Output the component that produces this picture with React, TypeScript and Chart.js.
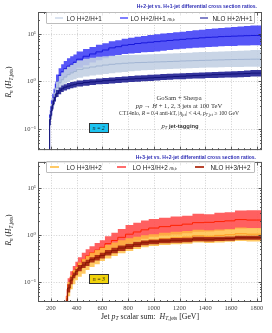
import React, { useEffect, useRef } from 'react';
import { Chart, registerables } from 'chart.js';
Chart.register(...registerables);

// ---------- axes ----------
const X_MIN = 100;
const X_MAX = 1840;
const X_TICKS = [200, 400, 600, 800, 1000, 1200, 1400, 1600, 1800];
const X_TICK_LABELS = ['200', '400', '600', '800', '1000', '1200', '1400', '1600', '1800'];
const Y_TICKS = [0.1, 1, 10];
const Y_TICK_LABELS = ['10\u207B\u00B9', '10\u2070', '10\u00B9'];
const TOP_Y_RANGE = [0.036, 29];
const BOT_Y_RANGE = [0.0376, 36.5];

// ---------- top panel: H+2 / H+1 (bin left edges, last = right edge) ----------
const HT_EDGES_TOP = [190, 200, 210, 220, 230, 240, 260, 280, 300, 325, 350, 375, 400, 450, 500, 550, 600, 650, 700, 750, 800, 850, 900, 950, 1000, 1050, 1100, 1150, 1200, 1250, 1300, 1350, 1400, 1450, 1500, 1550, 1600, 1650, 1700, 1750, 1800, 1850];

const LO_MTB_21_HI = [0.01, 0.25, 0.4, 0.55, 0.7, 0.9, 1.4, 1.9, 2.3, 2.7, 3.1, 3.4, 3.7, 4.3, 4.8, 5.3, 5.9, 6.4, 7.0, 7.4, 7.9, 8.3, 8.7, 9.1, 9.5, 9.9, 10.2, 10.5, 10.9, 11.2, 11.6, 12.0, 12.3, 12.7, 13.1, 13.4, 13.7, 14.0, 14.4, 14.7, 15.0];
const LO_MTB_21_MID = [0.01, 0.2, 0.3, 0.42, 0.52, 0.65, 1.0, 1.35, 1.6, 1.85, 2.1, 2.3, 2.55, 2.95, 3.4, 3.8, 4.2, 4.6, 5.1, 5.4, 5.8, 6.0, 6.3, 6.5, 6.7, 6.9, 7.1, 7.3, 7.5, 7.7, 7.9, 8.1, 8.3, 8.5, 8.6, 8.8, 8.9, 9.0, 9.1, 9.2, 9.3];
const LO_MTB_21_LO = [0.01, 0.14, 0.2, 0.28, 0.36, 0.45, 0.7, 0.9, 1.05, 1.2, 1.35, 1.5, 1.65, 1.95, 2.2, 2.5, 2.8, 3.1, 3.4, 3.6, 3.8, 3.9, 4.0, 4.1, 4.2, 4.3, 4.45, 4.6, 4.75, 4.9, 5.0, 5.1, 5.2, 5.3, 5.4, 5.5, 5.55, 5.6, 5.7, 5.75, 5.8];

const LO_21_HI = [0.01, 0.22, 0.33, 0.45, 0.58, 0.72, 1.0, 1.3, 1.55, 1.8, 2.05, 2.25, 2.45, 2.75, 3.0, 3.15, 3.3, 3.4, 3.5, 3.55, 3.6, 3.62, 3.65, 3.7, 3.75, 3.8, 3.85, 3.9, 3.95, 4.0, 4.05, 4.1, 4.15, 4.2, 4.25, 4.3, 4.35, 4.4, 4.45, 4.5, 4.6];
const LO_21_MID = [0.01, 0.17, 0.25, 0.34, 0.43, 0.53, 0.75, 0.95, 1.1, 1.25, 1.4, 1.52, 1.62, 1.8, 1.92, 2.02, 2.12, 2.22, 2.3, 2.36, 2.42, 2.46, 2.5, 2.52, 2.55, 2.58, 2.6, 2.63, 2.66, 2.7, 2.72, 2.75, 2.78, 2.8, 2.83, 2.85, 2.88, 2.9, 2.92, 2.93, 2.95];
const LO_21_LO = [0.01, 0.12, 0.18, 0.25, 0.31, 0.38, 0.55, 0.68, 0.8, 0.9, 0.98, 1.06, 1.12, 1.2, 1.27, 1.33, 1.39, 1.44, 1.49, 1.54, 1.59, 1.64, 1.69, 1.72, 1.75, 1.78, 1.8, 1.83, 1.85, 1.87, 1.9, 1.92, 1.94, 1.96, 1.98, 2.0, 2.01, 2.02, 2.03, 2.04, 2.05];

const NLO_21_HI = [0.01, 0.2, 0.3, 0.4, 0.48, 0.55, 0.66, 0.75, 0.82, 0.88, 0.93, 0.97, 1.0, 1.05, 1.09, 1.12, 1.15, 1.18, 1.21, 1.24, 1.27, 1.3, 1.33, 1.36, 1.39, 1.41, 1.43, 1.45, 1.47, 1.49, 1.51, 1.53, 1.55, 1.57, 1.59, 1.61, 1.63, 1.65, 1.67, 1.7, 1.74];
const NLO_21_MID = [0.01, 0.16, 0.24, 0.32, 0.4, 0.46, 0.56, 0.64, 0.7, 0.76, 0.8, 0.84, 0.87, 0.91, 0.95, 0.98, 1.01, 1.04, 1.06, 1.09, 1.11, 1.13, 1.15, 1.17, 1.19, 1.21, 1.23, 1.25, 1.27, 1.29, 1.31, 1.33, 1.35, 1.37, 1.39, 1.41, 1.43, 1.44, 1.45, 1.47, 1.5];
const NLO_21_LO = [0.01, 0.12, 0.19, 0.26, 0.33, 0.38, 0.47, 0.54, 0.6, 0.65, 0.69, 0.72, 0.75, 0.78, 0.81, 0.84, 0.87, 0.89, 0.91, 0.93, 0.95, 0.97, 0.99, 1.01, 1.03, 1.05, 1.07, 1.09, 1.11, 1.12, 1.14, 1.15, 1.16, 1.18, 1.19, 1.2, 1.21, 1.22, 1.23, 1.25, 1.27];

// ---------- bottom panel: H+3 / H+2 ----------
const HT_EDGES_BOT = [320, 330, 350, 370, 390, 410, 440, 470, 500, 540, 580, 620, 670, 720, 780, 840, 900, 960, 1040, 1130, 1220, 1300, 1390, 1470, 1550, 1630, 1720, 1800, 1850];

const LO_MTB_32_HI = [0.01, 0.07, 0.12, 0.17, 0.22, 0.27, 0.34, 0.42, 0.5, 0.58, 0.68, 0.78, 0.95, 1.12, 1.35, 1.65, 1.85, 2.05, 2.2, 2.35, 2.5, 2.6, 2.85, 2.8, 3.0, 3.1, 3.35, 3.4];
const LO_MTB_32_MID = [0.01, 0.05, 0.09, 0.13, 0.17, 0.2, 0.25, 0.3, 0.36, 0.42, 0.48, 0.55, 0.66, 0.77, 0.9, 1.05, 1.17, 1.3, 1.42, 1.52, 1.62, 1.72, 1.85, 1.88, 1.95, 2.02, 2.15, 2.1];
const LO_MTB_32_LO = [0.01, 0.035, 0.07, 0.1, 0.13, 0.16, 0.19, 0.23, 0.27, 0.31, 0.35, 0.4, 0.46, 0.53, 0.6, 0.68, 0.76, 0.84, 0.92, 0.98, 1.04, 1.1, 1.18, 1.2, 1.25, 1.3, 1.38, 1.4];

const LO_32_HI = [0.01, 0.05, 0.1, 0.14, 0.18, 0.21, 0.26, 0.31, 0.36, 0.42, 0.48, 0.54, 0.62, 0.7, 0.78, 0.86, 0.93, 1.0, 1.05, 1.12, 1.18, 1.22, 1.3, 1.27, 1.32, 1.36, 1.45, 1.42];
const LO_32_MID = [0.01, 0.04, 0.07, 0.1, 0.13, 0.15, 0.19, 0.22, 0.26, 0.3, 0.34, 0.39, 0.45, 0.51, 0.57, 0.63, 0.69, 0.74, 0.79, 0.84, 0.88, 0.91, 0.97, 0.95, 0.99, 1.02, 1.07, 1.05];
const LO_32_LO = [0.01, 0.03, 0.05, 0.07, 0.09, 0.11, 0.13, 0.15, 0.18, 0.21, 0.24, 0.28, 0.32, 0.36, 0.41, 0.46, 0.51, 0.55, 0.59, 0.62, 0.64, 0.66, 0.7, 0.68, 0.7, 0.72, 0.75, 0.73];

const NLO_32_HI = [0.01, 0.045, 0.09, 0.13, 0.16, 0.19, 0.23, 0.27, 0.3, 0.34, 0.38, 0.42, 0.48, 0.54, 0.6, 0.66, 0.72, 0.77, 0.8, 0.84, 0.87, 0.88, 0.92, 0.91, 0.93, 0.94, 0.97, 0.97];
const NLO_32_MID = [0.01, 0.04, 0.075, 0.11, 0.14, 0.17, 0.2, 0.23, 0.26, 0.3, 0.33, 0.37, 0.42, 0.47, 0.53, 0.58, 0.64, 0.69, 0.72, 0.75, 0.78, 0.79, 0.83, 0.82, 0.84, 0.85, 0.88, 0.88];
const NLO_32_LO = [0.01, 0.035, 0.06, 0.09, 0.12, 0.14, 0.17, 0.2, 0.22, 0.26, 0.29, 0.32, 0.37, 0.41, 0.46, 0.51, 0.56, 0.61, 0.64, 0.67, 0.69, 0.71, 0.74, 0.73, 0.75, 0.76, 0.8, 0.8];

const SERIF = '"Liberation Serif", "DejaVu Serif", serif';
const SANS = '"Liberation Sans", Arial, sans-serif';

function band(edges: number[], lo: number[], mid: number[], hi: number[], label: string, fill: string, line: string, order: number) {
  const pts = (v: number[]) => edges.map((x, i) => ({ x, y: v[Math.min(i, v.length - 1)] }));
  const common = { pointRadius: 0, stepped: 'after' as const, borderJoinStyle: 'miter' as const };
  return [
    { ...common, label: label + ' low', data: pts(lo), borderWidth: 0, borderColor: 'rgba(0,0,0,0)', fill: false, order: order + 2 },
    { ...common, label: label + ' high', data: pts(hi), borderWidth: 0, borderColor: 'rgba(0,0,0,0)', backgroundColor: fill, fill: '-1', order: order + 1 },
    { ...common, label, data: pts(mid), borderWidth: 1, borderColor: line, fill: false, order },
  ];
}

const frameTicks = {
  id: 'frameTicks',
  beforeDatasetsDraw(chart: any) {
    const { ctx, chartArea: a, scales } = chart;
    const x = scales.x, y = scales.y;
    ctx.save();
    ctx.strokeStyle = '#c4c4c4';
    ctx.lineWidth = 0.8;
    ctx.setLineDash([1, 1.6]);
    ctx.beginPath();
    X_TICKS.forEach((v) => {
      const p = Math.round(x.getPixelForValue(v)) + 0.5;
      ctx.moveTo(p, a.top); ctx.lineTo(p, a.bottom);
    });
    Y_TICKS.forEach((v) => {
      const p = Math.round(y.getPixelForValue(v)) + 0.5;
      ctx.moveTo(a.left, p); ctx.lineTo(a.right, p);
    });
    ctx.stroke();
    ctx.restore();
  },
  afterDatasetsDraw(chart: any) {
    const { ctx, chartArea: a, scales } = chart;
    const x = scales.x, y = scales.y;
    ctx.save();
    ctx.strokeStyle = '#333';
    ctx.lineWidth = 0.8;
    ctx.beginPath();
    for (let v = 100; v <= 1800; v += 50) {
      const major = v % 200 === 0;
      const len = major ? 3.5 : 2;
      const p = Math.round(x.getPixelForValue(v)) + 0.5;
      ctx.moveTo(p, a.bottom); ctx.lineTo(p, a.bottom - len);
      ctx.moveTo(p, a.top); ctx.lineTo(p, a.top + len);
    }
    const ymin = y.min, ymax = y.max;
    [0.01, 0.1, 1, 10].forEach((d) => {
      for (let k = 1; k <= 9; k++) {
        const v = d * k;
        if (v < ymin || v > ymax) continue;
        const len = k === 1 ? 3.5 : 2;
        const p = Math.round(y.getPixelForValue(v)) + 0.5;
        ctx.moveTo(a.left, p); ctx.lineTo(a.left + len, p);
        ctx.moveTo(a.right, p); ctx.lineTo(a.right - len, p);
      }
    });
    ctx.stroke();
    ctx.strokeStyle = '#555';
    ctx.lineWidth = 1;
    ctx.strokeRect(a.left + 0.5, a.top + 0.5, a.right - a.left - 1, a.bottom - a.top - 1);
    ctx.restore();
  },
};

function makeConfig(datasets: any[], yRange: number[], padding: any, xHeight: number, showX: boolean) {
  const tickFont = { family: SERIF, size: 6.5 };
  return {
    type: 'line' as const,
    data: { datasets },
    plugins: [frameTicks],
    options: {
      animation: false,
      responsive: false,
      maintainAspectRatio: false,
      events: [],
      layout: { padding },
      plugins: { legend: { display: false }, tooltip: { enabled: false }, title: { display: false } },
      scales: {
        x: {
          type: 'linear',
          min: X_MIN,
          max: X_MAX,
          grid: { display: false, drawTicks: false },
          border: { display: false },
          ticks: {
            display: showX, font: tickFont, color: '#444', padding: 2, maxRotation: 0, autoSkip: false,
            callback: (v: number) => { const i = X_TICKS.indexOf(v); return i >= 0 ? X_TICK_LABELS[i] : ''; },
          },
          afterBuildTicks: (s: any) => { s.ticks = X_TICKS.map((v) => ({ value: v })); },
          afterFit: (s: any) => { s.height = xHeight; },
        },
        y: {
          type: 'logarithmic',
          min: yRange[0],
          max: yRange[1],
          grid: { display: false, drawTicks: false },
          border: { display: false },
          ticks: {
            font: tickFont, color: '#444', padding: 2, autoSkip: false,
            callback: (v: number) => { const i = Y_TICKS.indexOf(v); return i >= 0 ? Y_TICK_LABELS[i] : ''; },
          },
          afterBuildTicks: (s: any) => { s.ticks = Y_TICKS.map((v) => ({ value: v })); },
          afterFit: (s: any) => { s.width = 38; },
        },
      },
    },
  };
}

function Txt({ x, y, children, style, anchor = 'center' }: any) {
  const tx = anchor === 'center' ? '-50%' : anchor === 'right' ? '-100%' : '0';
  return (
    <div style={{ position: 'absolute', left: x, top: y, transform: `translate(${tx},-50%)`, whiteSpace: 'nowrap', lineHeight: 1, ...style }}>
      {children}
    </div>
  );
}

const sub = { fontSize: '70%', verticalAlign: '-0.3em', lineHeight: 0 } as const;

function LegendBox({ top, items }: any) {
  return (
    <>
      <div style={{ position: 'absolute', left: 46, top, width: 209, height: 12, border: '1px solid #bdbdbd', boxSizing: 'border-box', background: 'rgba(255,255,255,0.85)', borderRadius: 1 }} />
      {items.map((it: any, i: number) => (
        <React.Fragment key={i}>
          <div style={{ position: 'absolute', left: it.mx, top: top + 4.8, width: it.mw, height: 2.4, background: it.color }} />
          <Txt x={it.tx} y={top + 6} anchor="left" style={{ font: `6.3px ${SANS}`, color: '#222' }}>{it.text}</Txt>
        </React.Fragment>
      ))}
    </>
  );
}

export default function App() {
  const topRef = useRef<HTMLCanvasElement>(null);
  const botRef = useRef<HTMLCanvasElement>(null);

  useEffect(() => {
    const topSets = [
      ...band(HT_EDGES_TOP, LO_MTB_21_LO, LO_MTB_21_MID, LO_MTB_21_HI, 'LO H+2/H+1 mt,b', 'rgba(72,72,246,0.92)', '#1818dc', 20),
      ...band(HT_EDGES_TOP, LO_21_LO, LO_21_MID, LO_21_HI, 'LO H+2/H+1', 'rgba(193,207,227,0.88)', '#a2b5d3', 10),
      ...band(HT_EDGES_TOP, NLO_21_LO, NLO_21_MID, NLO_21_HI, 'NLO H+2/H+1', 'rgba(38,38,150,0.93)', '#12127a', 0),
    ];
    const botSets = [
      ...band(HT_EDGES_BOT, LO_MTB_32_LO, LO_MTB_32_MID, LO_MTB_32_HI, 'LO H+3/H+2 mt,b', 'rgba(255,82,82,0.92)', '#ff2200', 20),
      ...band(HT_EDGES_BOT, LO_32_LO, LO_32_MID, LO_32_HI, 'LO H+3/H+2', 'rgba(255,188,60,0.8)', '#ff9a20', 10),
      ...band(HT_EDGES_BOT, NLO_32_LO, NLO_32_MID, NLO_32_HI, 'NLO H+3/H+2', 'rgba(168,36,16,0.92)', '#861604', 0),
    ];
    const c1 = new Chart(topRef.current!, makeConfig(topSets, TOP_Y_RANGE, { top: 12, right: 10, bottom: 4, left: 0 }, 0, false) as any);
    const c2 = new Chart(botRef.current!, makeConfig(botSets, BOT_Y_RANGE, { top: 3, right: 10, bottom: 0, left: 0 }, 31, true) as any);
    return () => { c1.destroy(); c2.destroy(); };
  }, []);

  const titleStyle = { font: `bold 5px ${SANS}`, color: '#2d2db5' };
  const annot = { font: `6.6px ${SERIF}`, color: '#333' };

  return (
    <div style={{ position: 'absolute', left: 0, top: 0, width: 272, height: 333, background: '#fff', overflow: 'hidden' }}>
      <canvas ref={topRef} width={272} height={156} style={{ position: 'absolute', left: 0, top: 0, width: 272, height: 156 }} />
      <canvas ref={botRef} width={272} height={177} style={{ position: 'absolute', left: 0, top: 156, width: 272, height: 177 }} />

      <Txt x={257} y={5.7} anchor="right" style={titleStyle}>H+2-jet vs. H+1-jet differential cross section ratios.</Txt>
      <Txt x={256} y={156.7} anchor="right" style={titleStyle}>H+3-jet vs. H+2-jet differential cross section ratios.</Txt>

      <LegendBox top={12} items={[
        { mx: 55, mw: 8, color: '#dae3f0', tx: 66.5, text: 'LO H+2/H+1' },
        { mx: 120, mw: 7.5, color: '#7f7fff', tx: 130.5, text: <>LO H+2/H+1 <span style={{ fontSize: '70%', fontStyle: 'italic' }}>m<sub style={sub}>t,b</sub></span></> },
        { mx: 200, mw: 8, color: '#8383c8', tx: 212.5, text: 'NLO H+2/H+1' },
      ]} />
      <LegendBox top={161} items={[
        { mx: 50, mw: 9, color: '#ffc966', tx: 66.5, text: 'LO H+3/H+2' },
        { mx: 117, mw: 9, color: '#ff6d6d', tx: 132.5, text: <>LO H+3/H+2 <span style={{ fontSize: '70%', fontStyle: 'italic' }}>m<sub style={sub}>t,b</sub></span></> },
        { mx: 195, mw: 8.5, color: '#b8452f', tx: 210.5, text: 'NLO H+3/H+2' },
      ]} />

      {/* y axis titles */}
      <div style={{ position: 'absolute', left: 9, top: 82, transform: 'translate(-50%,-50%) rotate(-90deg)', whiteSpace: 'nowrap', font: `7.5px ${SERIF}`, color: '#222', lineHeight: 1 }}>
        <i>R</i><sub style={{ ...sub, fontStyle: 'italic' }}>n</sub> (<i>H</i><sub style={sub}><i>T</i>,jets</sub>)
      </div>
      <div style={{ position: 'absolute', left: 9, top: 230, transform: 'translate(-50%,-50%) rotate(-90deg)', whiteSpace: 'nowrap', font: `7.5px ${SERIF}`, color: '#222', lineHeight: 1 }}>
        <i>R</i><sub style={{ ...sub, fontStyle: 'italic' }}>n</sub> (<i>H</i><sub style={sub}><i>T</i>,jets</sub>)
      </div>

      {/* x axis title */}
      <Txt x={150} y={316} style={{ font: `7.8px ${SERIF}`, color: '#222' }}>
        Jet <i>p</i><sub style={{ ...sub, fontStyle: 'italic' }}>T</sub> scalar sum:&nbsp;&nbsp;<i>H</i><sub style={sub}><i>T</i>,jets</sub> [GeV]
      </Txt>

      {/* annotations */}
      <Txt x={179} y={97} style={annot}>GoSam + Sherpa</Txt>
      <Txt x={179} y={104.5} style={annot}><i>pp</i> → <i>H</i> + 1, 2, 3 jets at 100 TeV</Txt>
      <Txt x={179} y={113} style={{ ...annot, fontSize: '5.6px' }}>
        CT14nlo, <i>R</i> = 0.4 anti-kT, |<i>η</i><sub style={sub}>jet</sub>| &lt; 4.4, <i>p</i><sub style={sub}><i>T</i>,jet</sub> ≥ 100 GeV
      </Txt>
      <Txt x={180} y={125} style={annot}>
        <i>p</i><sub style={{ ...sub, fontStyle: 'italic' }}>T</sub> <b style={{ fontFamily: SANS, fontSize: '5.8px' }}>jet-tagging</b>
      </Txt>

      <div style={{ position: 'absolute', left: 88.5, top: 123.3, width: 20.5, height: 10, background: '#1ec3f0', border: '1px solid #333', boxSizing: 'border-box', display: 'flex', alignItems: 'center', justifyContent: 'center', font: `italic 5.5px ${SERIF}`, color: '#111' }}>n = 2</div>
      <div style={{ position: 'absolute', left: 88.5, top: 274.3, width: 20.5, height: 10, background: '#f0d20c', border: '1px solid #333', boxSizing: 'border-box', display: 'flex', alignItems: 'center', justifyContent: 'center', font: `italic 5.5px ${SERIF}`, color: '#111' }}>n = 3</div>
    </div>
  );
}
